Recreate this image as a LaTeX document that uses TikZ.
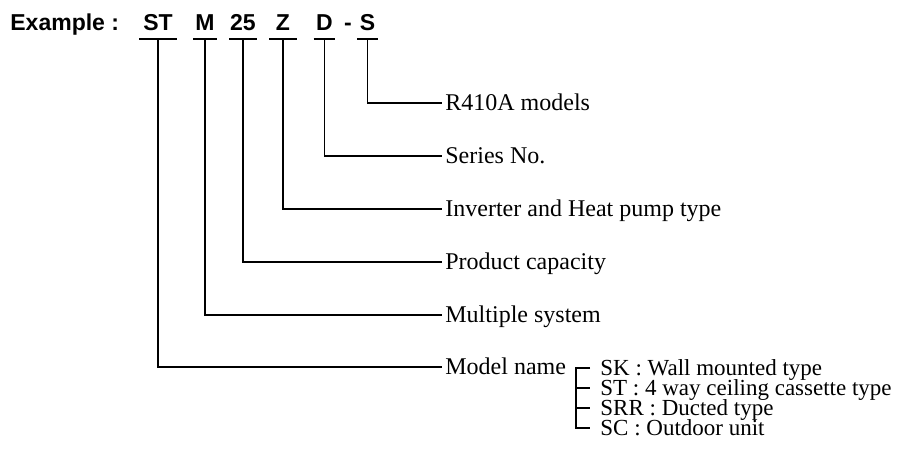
\documentclass[tikz,border=0pt]{standalone}
\usepackage{fontspec}
\setmainfont{Liberation Serif}
\newfontfamily\codefont{Liberation Sans}
\begin{document}
\begin{tikzpicture}[x=0.5pt,y=-0.5pt,
    code/.style={font=\codefont\bfseries\fontsize{11.5}{13}\selectfont,anchor=base,inner xsep=0pt,inner ysep=0pt},
    desc/.style={font=\fontsize{12}{14}\selectfont,anchor=west,inner xsep=1.5pt,inner ysep=0pt,text height=7pt,text depth=0pt},
    kind/.style={desc,font=\fontsize{11.5}{13}\selectfont,inner xsep=5pt},
    bar/.style={line width=1.1pt},
    lead/.style={line width=0.6pt}]
        \useasboundingbox (0,0) rectangle (906,457);
        \node [code,anchor=base west] (title) at (10,30) {Example :};
        \node [code,minimum width=18.5pt] (st) at (158,30) {ST};
        \node [code,minimum width=11.5pt] (m) at (205,30) {M};
        \node [code,minimum width=13.5pt] (cap) at (243,30) {25};
        \node [code,minimum width=13.5pt] (z) at (283,30) {Z};
        \node [code,minimum width=10.5pt] (d) at (324.5,30) {D};
        \node [code] (dash) at (348,30) {-};
        \node [code,minimum width=10pt] (s) at (367.5,30) {S};
        \node [desc] (refr) at (442,103) {R410A models};
        \node [desc] (series) at (442,156) {Series No.};
        \node [desc] (inv) at (442,209) {Inverter and Heat pump type};
        \node [desc] (prod) at (442,262) {Product capacity};
        \node [desc] (multi) at (442,315) {Multiple system};
        \node [desc] (mname) at (442,367) {Model name};
        \node [kind] (sk) at (590,368) {SK : Wall mounted type};
        \node [kind] (stc) at (590,388) {ST : 4 way ceiling cassette type};
        \node [kind] (srr) at (590,408) {SRR : Ducted type};
        \node [kind] (sc) at (590,428) {SC : Outdoor unit};
        \coordinate (brk) at (576,0);
        \foreach \c in {st,m,cap,z,d,s}
          \draw [bar] ([yshift=-4.5pt]\c.base west) -- ([yshift=-4.5pt]\c.base east);
        \draw [lead] ([yshift=-4.5pt]s.base) |- (refr.west);
        \draw [lead] ([yshift=-4.5pt]d.base) |- (series.west);
        \draw [lead] ([yshift=-4.5pt]z.base) |- (inv.west);
        \draw [lead] ([yshift=-4.5pt]cap.base) |- (prod.west);
        \draw [lead] ([yshift=-4.5pt]m.base) |- (multi.west);
        \draw [lead] ([yshift=-4.5pt]st.base) |- (mname.west);
        \draw [lead] (sk.west) -- (sk.west -| brk) -- (sc.west -| brk) -- (sc.west);
        \draw [lead] (stc.west -| brk) -- (stc.west);
        \draw [lead] (srr.west -| brk) -- (srr.west);
      \end{tikzpicture}
\end{document}
